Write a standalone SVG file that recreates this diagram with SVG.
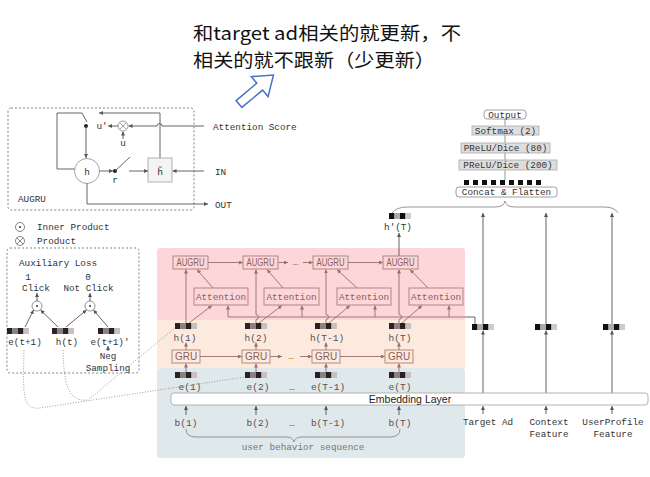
<svg xmlns="http://www.w3.org/2000/svg" xmlns:xlink="http://www.w3.org/1999/xlink" width="650" height="477" viewBox="0 0 650 477">
<style>
.m{font-family:"Liberation Mono","DejaVu Sans Mono",monospace;font-size:9.3px;fill:#333}
.mb{font-family:"Liberation Mono","DejaVu Sans Mono",monospace;font-size:9.3px;fill:#8a5e58}
.ml{font-family:"Liberation Mono","DejaVu Sans Mono",monospace;font-size:9.5px;fill:#5a5050}
.s{font-family:"Liberation Sans",Arial,sans-serif;font-size:10px;fill:#8a5e58}
.c{text-anchor:middle}
.ln{stroke:#555;stroke-width:0.9;fill:none}
.br{stroke:#9a6e68;stroke-width:0.9;fill:none}
.gl{stroke:#8a8a8a;stroke-width:0.9;fill:none}
.bx{fill:none;stroke:#a87e78;stroke-width:0.9}
.dot{stroke:#888;stroke-width:0.8;fill:none;stroke-dasharray:1 1.6}
.cj{font-family:"Noto Sans CJK SC","Noto Sans",sans-serif;font-size:18.5px;fill:#111}
</style>
<defs>
<marker id="a1" viewBox="0 0 6 6" refX="6" refY="3" markerWidth="4" markerHeight="4" markerUnits="userSpaceOnUse" orient="auto"><path d="M0,0L6,3L0,6z" fill="#555"/></marker>
<marker id="a2" viewBox="0 0 6 6" refX="6" refY="3" markerWidth="4" markerHeight="4" markerUnits="userSpaceOnUse" orient="auto"><path d="M0,0L6,3L0,6z" fill="#9a6e68"/></marker>
<g id="vec"><rect x="0" y="0" width="5.5" height="6" fill="#2a2222"/><rect x="5.5" y="0" width="5.5" height="6" fill="#8c8080"/><rect x="11" y="0" width="5.5" height="6" fill="#2a2222"/><rect x="16.5" y="0" width="5.5" height="6" fill="#c8c0c0"/></g>
<g id="vecb"><rect x="0" y="0" width="5.5" height="6" fill="#111"/><rect x="5.5" y="0" width="5.5" height="6" fill="#aaa"/><rect x="11" y="0" width="5.5" height="6" fill="#111"/><rect x="16.5" y="0" width="5.5" height="6" fill="#ccc"/></g>
</defs>
<rect width="650" height="477" fill="#fff"/>

<g id="annotation">
<text class="cj" x="193" y="40" textLength="268" lengthAdjust="spacingAndGlyphs">和target ad相关的就更新，不</text>
<text class="cj" x="193" y="67" textLength="242" lengthAdjust="spacingAndGlyphs">相关的就不跟新（少更新）</text>
<polygon transform="translate(239,104) rotate(-40)" points="0,-4.5 27,-4.5 27,-13 45,0 27,13 27,4.5 0,4.5" fill="#fff" stroke="#4472c4" stroke-width="1.5"/>
</g>

<g id="regions">
<rect x="157" y="248" width="308" height="73" rx="3" fill="#fdd6d9"/>
<rect x="157" y="320" width="308" height="48" fill="#fdeade"/>
<rect x="157" y="368" width="308" height="90" rx="3" fill="#dfe8ea"/>
</g>

<g id="augru-cell">
<rect x="8" y="108" width="186" height="102" rx="3" fill="none" stroke="#666" stroke-width="0.8" stroke-dasharray="2 2"/>
<circle cx="87" cy="171" r="12.5" fill="#fff" stroke="#999" stroke-width="0.9"/>
<text class="m c" x="87" y="174.5">h</text>
<path class="ln" d="M74.5,169 L57,169 L57,113 L82,113 L87,122"/>
<circle cx="86" cy="126" r="2" fill="#222"/>
<path class="ln" d="M86,126 L86,158" marker-end="url(#a1)"/>
<circle cx="123" cy="126" r="5" fill="#fff" stroke="#888" stroke-width="0.8"/>
<path d="M119.5,122.5 L126.5,129.5 M126.5,122.5 L119.5,129.5" stroke="#888" stroke-width="0.8"/>
<path class="ln" d="M118,126 L108,126" marker-end="url(#a1)"/>
<text class="m c" x="102" y="129">u'</text>
<path class="ln" d="M123,139 L123,131.5" marker-end="url(#a1)"/>
<text class="m c" x="123" y="146">u</text>
<path class="ln" d="M204,126 L162,126 A2.5,2.5 0 0 0 157,126 L128.5,126" marker-end="url(#a1)"/>
<path class="ln" d="M160,158 L160,113 L99,113" marker-end="url(#a1)"/>
<rect x="148" y="158" width="24" height="24" fill="#f4f4f4" stroke="#aaa" stroke-width="0.9"/>
<text class="c" x="160" y="175" style="font-family:'DejaVu Sans Mono',monospace;font-size:9.5px;fill:#333">h̃</text>
<path class="ln" d="M204,171 L172.5,171" marker-end="url(#a1)"/>
<text class="m" x="215" y="174.5">IN</text>
<path class="ln" d="M99.5,171 L113,171" marker-end="url(#a1)"/>
<circle cx="115" cy="171" r="2" fill="#222"/>
<path class="ln" d="M115,171 L130,157"/>
<path class="ln" d="M129,171 L148,171" marker-end="url(#a1)"/>
<text class="m c" x="115" y="183">r</text>
<path class="ln" d="M87,183.5 L87,204 L208,204" marker-end="url(#a1)"/>
<text class="m" x="215" y="207.5">OUT</text>
<text class="m" x="18" y="202">AUGRU</text>
<text class="m" x="213" y="129.5">Attention Score</text>
</g>

<g id="legend">
<circle cx="20" cy="227" r="4.5" fill="#fff" stroke="#666" stroke-width="0.8"/>
<circle cx="20" cy="227" r="1" fill="#333"/>
<text class="m" x="37" y="230">Inner Product</text>
<circle cx="20" cy="241" r="4.5" fill="#fff" stroke="#666" stroke-width="0.8"/>
<path d="M16.8,237.8 L23.2,244.2 M23.2,237.8 L16.8,244.2" stroke="#666" stroke-width="0.8"/>
<text class="m" x="37" y="244">Product</text>
</g>

<g id="aux-loss">
<rect x="7" y="248" width="132" height="125" rx="3" fill="none" stroke="#666" stroke-width="0.8" stroke-dasharray="2 2"/>
<text class="m" x="19" y="266">Auxiliary Loss</text>
<text class="m c" x="28" y="280">1</text>
<text class="m c" x="36" y="291">Click</text>
<text class="m c" x="88" y="280">0</text>
<text class="m c" x="88.5" y="291">Not Click</text>
<circle cx="37" cy="306" r="5" fill="#fff" stroke="#777" stroke-width="0.8"/>
<circle cx="37" cy="306" r="1" fill="#333"/>
<circle cx="90" cy="306" r="5" fill="#fff" stroke="#777" stroke-width="0.8"/>
<circle cx="90" cy="306" r="1" fill="#333"/>
<path class="ln" d="M37,301 L37,293" marker-end="url(#a1)"/>
<path class="ln" d="M90,301 L90,293" marker-end="url(#a1)"/>
<use href="#vec" x="7" y="328"/>
<use href="#vec" x="52" y="328"/>
<use href="#vec" x="98" y="328"/>
<path class="ln" d="M25,327 L33.5,310" marker-end="url(#a1)"/>
<path class="ln" d="M58,327 L40.5,310" marker-end="url(#a1)"/>
<path class="ln" d="M66,327 L86.5,310" marker-end="url(#a1)"/>
<path class="ln" d="M108,327 L93.5,310" marker-end="url(#a1)"/>
<text class="m c" x="25" y="345">e(t+1)</text>
<text class="m c" x="67" y="345">h(t)</text>
<text class="m c" x="110" y="345">e(t+1)'</text>
<path class="ln" d="M108,351 L108,346" marker-end="url(#a1)"/>
<text class="m c" x="108" y="359">Neg</text>
<text class="m c" x="108" y="370.5">Sampling</text>
</g>

<g id="connectors">
<path class="dot" d="M24,350 C23,395 22,410 40,408 L245,377"/>
<path class="dot" d="M63,350 C64,385 68,402 88,400 L176,327"/>
<path class="br" d="M208,262.5 L243,262.5" marker-end="url(#a2)"/>
<path class="br" d="M278,262.5 L288,262.5" marker-end="url(#a2)"/>
<path class="br" d="M303,262.5 L313,262.5" marker-end="url(#a2)"/>
<path class="br" d="M348,262.5 L383,262.5" marker-end="url(#a2)"/>
<path class="br" d="M186,323 L186,269.5" marker-end="url(#a2)"/>
<path class="br" d="M256,323 L256,319.5 A2.5,2.5 0 0 0 256,314.5 L256,269.5" marker-end="url(#a2)"/>
<path class="br" d="M326,323 L326,319.5 A2.5,2.5 0 0 0 326,314.5 L326,269.5" marker-end="url(#a2)"/>
<path class="br" d="M399,323 L399,319.5 A2.5,2.5 0 0 0 399,314.5 L399,269.5" marker-end="url(#a2)"/>
<path class="br" d="M213,288 L197,269.5" marker-end="url(#a2)"/>
<path class="br" d="M283,288 L267,269.5" marker-end="url(#a2)"/>
<path class="br" d="M357,288 L337,269.5" marker-end="url(#a2)"/>
<path class="br" d="M428,288 L410,269.5" marker-end="url(#a2)"/>
<path class="br" d="M189,323 L212,305.5" marker-end="url(#a2)"/>
<path class="br" d="M259,323 L282,305.5" marker-end="url(#a2)"/>
<path class="br" d="M329,323 L350,305.5" marker-end="url(#a2)"/>
<path class="br" d="M402,323 L422,305.5" marker-end="url(#a2)"/>
<path class="br" d="M228,317 L465,317"/>
<path class="ln" d="M465,317 L475,317 L475,324"/>
<path class="br" d="M228,317 L228,305.5" marker-end="url(#a2)"/>
<path class="br" d="M302,317 L302,305.5" marker-end="url(#a2)"/>
<path class="br" d="M375,317 L375,305.5" marker-end="url(#a2)"/>
<path class="br" d="M449,317 L449,305.5" marker-end="url(#a2)"/>
<path class="ln" d="M399,256 L399,233" marker-end="url(#a1)"/>
<path class="br" d="M200,356.5 L242,356.5" marker-end="url(#a2)"/>
<path class="br" d="M270,356.5 L282,356.5" marker-end="url(#a2)"/>
<path class="br" d="M300,356.5 L312,356.5" marker-end="url(#a2)"/>
<path class="br" d="M340,356.5 L385,356.5" marker-end="url(#a2)"/>
<path class="br" d="M186,350 L186,342.5" marker-end="url(#a2)"/>
<path class="br" d="M256,350 L256,342.5" marker-end="url(#a2)"/>
<path class="br" d="M326,350 L326,342.5" marker-end="url(#a2)"/>
<path class="br" d="M399,350 L399,342.5" marker-end="url(#a2)"/>
<path class="br" d="M186,372 L186,363.5" marker-end="url(#a2)"/>
<path class="br" d="M256,372 L256,363.5" marker-end="url(#a2)"/>
<path class="br" d="M326,372 L326,363.5" marker-end="url(#a2)"/>
<path class="br" d="M399,372 L399,363.5" marker-end="url(#a2)"/>
<path class="ln" d="M186,415 L186,406" marker-end="url(#a1)"/>
<path class="ln" d="M256,415 L256,406" marker-end="url(#a1)"/>
<path class="ln" d="M326,415 L326,406" marker-end="url(#a1)"/>
<path class="ln" d="M399,415 L399,406" marker-end="url(#a1)"/>
<path class="ln" d="M483,414 L483,406" marker-end="url(#a1)"/>
<path class="ln" d="M546,414 L546,406" marker-end="url(#a1)"/>
<path class="ln" d="M612,414 L612,406" marker-end="url(#a1)"/>
<path class="ln" d="M483,393 L483,330.5" marker-end="url(#a1)"/>
<path class="ln" d="M546,393 L546,330.5" marker-end="url(#a1)"/>
<path class="ln" d="M612,393 L612,330.5" marker-end="url(#a1)"/>
<path class="ln" d="M483,324 L483,213" marker-end="url(#a1)"/>
<path class="ln" d="M546,324 L546,213" marker-end="url(#a1)"/>
<path class="ln" d="M612,324 L612,213" marker-end="url(#a1)"/>
<path class="gl" d="M392,213 Q396,207 408,207 L495,207 Q504,207 505,201 Q506,207 515,207 L604,207 Q615,207 618,213"/>
<path class="gl" d="M186,429 Q186,437 196,437 L286,437 Q293,437 294,442 Q295,437 302,437 L390,437 Q400,437 400,429"/>
<path class="gl" d="M505,118 L505,180"/>
</g>

<g id="augru-1"><rect class="bx" x="173" y="256" width="35" height="13"/><text class="s c" x="190.5" y="266" textLength="28" lengthAdjust="spacingAndGlyphs">AUGRU</text></g>
<g id="augru-2"><rect class="bx" x="243" y="256" width="35" height="13"/><text class="s c" x="260.5" y="266" textLength="28" lengthAdjust="spacingAndGlyphs">AUGRU</text></g>
<g id="augru-3"><rect class="bx" x="313" y="256" width="35" height="13"/><text class="s c" x="330.5" y="266" textLength="28" lengthAdjust="spacingAndGlyphs">AUGRU</text></g>
<g id="augru-4"><rect class="bx" x="383" y="256" width="35" height="13"/><text class="s c" x="400.5" y="266" textLength="28" lengthAdjust="spacingAndGlyphs">AUGRU</text></g>
<text class="mb c" x="295.5" y="265">…</text>

<g id="attention-1"><rect class="bx" x="194" y="288" width="54" height="17"/><text class="mb c" x="221" y="300">Attention</text></g>
<g id="attention-2"><rect class="bx" x="264" y="288" width="55" height="17"/><text class="mb c" x="291.5" y="300">Attention</text></g>
<g id="attention-3"><rect class="bx" x="337" y="288" width="54" height="17"/><text class="mb c" x="364" y="300">Attention</text></g>
<g id="attention-4"><rect class="bx" x="409" y="288" width="54" height="17"/><text class="mb c" x="436" y="300">Attention</text></g>

<g id="h-states">
<use href="#vec" x="175" y="323"/><use href="#vec" x="245" y="323"/><use href="#vec" x="315" y="323"/><use href="#vec" x="389" y="323"/>
<text class="ml c" x="185" y="340.5">h(1)</text>
<text class="ml c" x="256" y="340.5">h(2)</text>
<text class="ml c" x="327" y="340.5">h(T-1)</text>
<text class="ml c" x="400" y="340.5">h(T)</text>
</g>

<g id="gru-1"><rect class="bx" x="172" y="350" width="28" height="13"/><text class="s c" x="186" y="360">GRU</text></g>
<g id="gru-2"><rect class="bx" x="242" y="350" width="28" height="13"/><text class="s c" x="256" y="360">GRU</text></g>
<g id="gru-3"><rect class="bx" x="312" y="350" width="28" height="13"/><text class="s c" x="326" y="360">GRU</text></g>
<g id="gru-4"><rect class="bx" x="385" y="350" width="28" height="13"/><text class="s c" x="399" y="360">GRU</text></g>
<text class="mb c" x="291" y="359">…</text>

<g id="e-embeddings">
<use href="#vec" x="175" y="372"/><use href="#vec" x="245" y="372"/><use href="#vec" x="315" y="372"/><use href="#vec" x="389" y="372"/>
<text class="ml c" x="190" y="389.5">e(1)</text>
<text class="ml c" x="258" y="389.5">e(2)</text>
<text class="ml c" x="328" y="389.5">e(T-1)</text>
<text class="ml c" x="400" y="389.5">e(T)</text>
<text class="ml c" x="292" y="389.5">…</text>
</g>

<g id="embedding-layer">
<rect x="171" y="393" width="477" height="12" rx="3" fill="#fff" stroke="#aaa" stroke-width="0.9"/>
<text x="410" y="403" text-anchor="middle" style="font-family:'Liberation Sans',Arial,sans-serif;font-size:10.5px;fill:#222">Embedding Layer</text>
</g>

<g id="behaviors">
<text class="ml c" x="186" y="426">b(1)</text>
<text class="ml c" x="258" y="426">b(2)</text>
<text class="ml c" x="328" y="426">b(T-1)</text>
<text class="ml c" x="400" y="426">b(T)</text>
<text class="ml c" x="292" y="426">…</text>
<text class="m c" x="303" y="450" style="fill:#777">user behavior sequence</text>
</g>

<g id="hprime">
<use href="#vecb" x="389" y="213"/>
<text class="m c" x="398" y="230">h'(T)</text>
</g>

<g id="target-ad"><use href="#vecb" x="472" y="324"/><text class="m c" x="488" y="425">Target Ad</text></g>
<g id="context"><use href="#vecb" x="535" y="324"/><text class="m c" x="549" y="425">Context</text><text class="m c" x="549" y="437">Feature</text></g>
<g id="userprofile"><use href="#vecb" x="603" y="324"/><text class="m c" x="613" y="425">UserProfile</text><text class="m c" x="613" y="437">Feature</text></g>

<g id="output"><rect x="484" y="110" width="42" height="9" rx="3" fill="#fff" stroke="#888" stroke-width="0.8"/><text class="m c" x="505" y="117.5">Output</text></g>
<g id="softmax"><rect x="472" y="126" width="67" height="9" fill="#ddd" stroke="#aaa" stroke-width="0.8"/><text class="m c" x="505.5" y="133.5">Softmax (2)</text></g>
<g id="prelu-80"><rect x="461" y="143" width="89" height="10" fill="#ddd" stroke="#aaa" stroke-width="0.8"/><text class="m c" x="505.5" y="151">PReLU/Dice (80)</text></g>
<g id="prelu-200"><rect x="459" y="160" width="98" height="10" fill="#ddd" stroke="#aaa" stroke-width="0.8"/><text class="m c" x="508" y="168">PReLU/Dice (200)</text></g>
<g id="concat-vector" fill="#111">
<rect x="464" y="180" width="5" height="5"/><rect x="473" y="180" width="5" height="5"/><rect x="482" y="180" width="5" height="5"/><rect x="491" y="180" width="5" height="5"/><rect x="500" y="180" width="5" height="5"/><rect x="509" y="180" width="5" height="5"/><rect x="518" y="180" width="5" height="5"/><rect x="527" y="180" width="5" height="5"/><rect x="536" y="180" width="5" height="5"/>
</g>
<g id="concat"><rect x="456" y="187" width="101" height="10" rx="3" fill="#fff" stroke="#888" stroke-width="0.8"/><text class="m c" x="506.5" y="195">Concat &amp; Flatten</text></g>
</svg>
